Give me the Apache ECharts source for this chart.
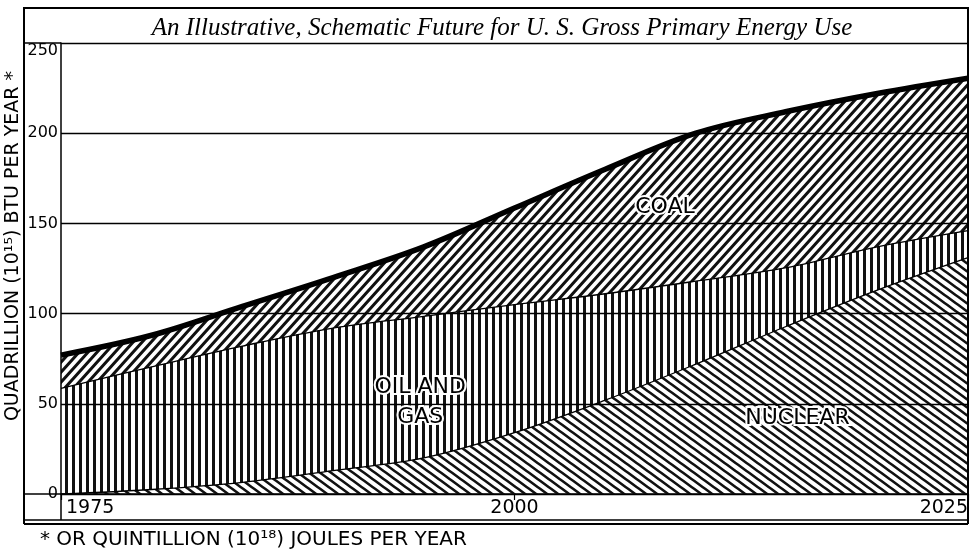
<!DOCTYPE html>
<html><head><meta charset="utf-8">
<script src="https://cdn.jsdelivr.net/npm/echarts@6/dist/echarts.min.js"></script>
<style>html,body{margin:0;padding:0;background:#fff}#c{width:971px;height:550px}</style>
</head><body><div id="c"></div>
<script>
// ---- data (quadrillion BTU per year) ----
const years   = ['1975', '1980', '1985', '1990', '1995', '2000', '2005', '2010', '2015', '2020', '2025'];
const nuclear = [0, 2.5, 6.5, 13, 20, 34, 52, 72, 93, 113, 131];
const oilGas  = [58.5, 68, 75.5, 79, 78.5, 71, 59, 46, 32.5, 24, 15];
const coal    = [18.5, 17.5, 22, 28, 38.5, 53.5, 69, 82, 86.5, 85, 84.5];
const xTickLabels = ['1975', '2000', '2025'];
const yTickLabels = [0, 50, 100, 150, 200, 250];
// area labels placed at (fractional category index, value)
const areaLabels = [
  {text: 'COAL', x: 6.66, y: 159},
  {text: 'OIL AND\nGAS', x: 3.96, y: 51},
  {text: 'NUCLEAR', x: 8.12, y: 42}
];

// ---- hatch tiles ----
function tile(w, h, dir, lw) {
  const c = document.createElement('canvas'); c.width = w; c.height = h;
  const g = c.getContext('2d');
  g.clearRect(0, 0, w, h);
  g.strokeStyle = '#111'; g.lineWidth = lw; g.beginPath();
  if (dir === '|') { g.moveTo(w / 2, -1); g.lineTo(w / 2, h + 1); }
  else {
    for (let k = -2; k <= 2; k++) {
      if (dir === '/') { g.moveTo(k * w - w, 2 * h); g.lineTo(k * w + 2 * w, -h); }
      else { g.moveTo(k * w - w, -h); g.lineTo(k * w + 2 * w, 2 * h); }
    }
  }
  g.stroke();
  return c;
}
const nucTile  = tile(11, 8, '\\', 2.6);
const oilTile  = tile(7, 4, '|', 3);
const coalTile = tile(9, 10, '/', 3);

const G = {left: 61, right: 3, top: 43, bottom: 56};
const chart = echarts.init(document.getElementById('c'));
const font = '"DejaVu Sans", sans-serif';

function mk(name, vals, tileC, lw) {
  return {
    type: 'line', name: name, stack: 'total', smooth: 0.35, symbol: 'none',
    data: vals,
    lineStyle: {color: '#000', width: lw},
    areaStyle: {color: {image: tileC, repeat: 'repeat'}, opacity: 1},
    emphasis: {disabled: true}, silent: true, z: 2
  };
}

chart.setOption({
  animation: false,
  backgroundColor: '#fff',
  title: {
    text: 'An Illustrative, Schematic Future for U. S. Gross Primary Energy Use',
    left: 497, top: 11, textAlign: 'center',
    textStyle: {fontFamily: '"Liberation Serif", serif', fontStyle: 'italic', fontWeight: 'normal', fontSize: 25, color: '#000'}
  },
  grid: G,
  xAxis: {
    type: 'category', data: years, boundaryGap: false,
    axisLine: {show: true, lineStyle: {color: '#000', width: 1.5}},
    axisTick: {show: true, length: 6, interval: 4, lineStyle: {color: '#000', width: 1.2}},
    splitLine: {show: false},
    axisLabel: {
      color: '#000', fontFamily: font, fontSize: 19, margin: 5, interval: 4,
      alignMinLabel: 'left', alignMaxLabel: 'right',
      formatter: v => (v === xTickLabels[0] ? '{p|' + v + '}' : (xTickLabels.indexOf(v) >= 0 ? v : '')),
      rich: {p: {fontFamily: font, fontSize: 19, color: '#000', padding: [0, 0, 0, 5]}}
    }
  },
  yAxis: {
    type: 'value', min: 0, max: 250, interval: 50, z: 5,
    axisLine: {show: true, lineStyle: {color: '#000', width: 1.5}},
    axisTick: {show: false},
    splitLine: {show: true, lineStyle: {color: '#000', width: 1.3}},
    axisLabel: {
      color: '#000', fontFamily: font, fontSize: 16, margin: 3,
      verticalAlignMaxLabel: 'top',
      formatter: v => (yTickLabels.indexOf(v) >= 0 ? String(v) : '')
    }
  },
  series: [
    mk('Nuclear', nuclear, nucTile, 1.3),
    mk('Oil and Gas', oilGas, oilTile, 1.3),
    mk('Coal', coal, coalTile, 5.5)
  ]
});

// frame / annotations
const L = 24, R = 968, T = 8, B1 = 520, B2 = 524;
const y0 = chart.convertToPixel({gridIndex: 0}, [0, 0])[1];
const x0 = G.left;
function toPx(fi, v) {
  const i0 = Math.floor(fi), i1 = Math.min(i0 + 1, years.length - 1), f = fi - i0;
  const a = chart.convertToPixel({gridIndex: 0}, [i0, v]);
  const b = chart.convertToPixel({gridIndex: 0}, [i1, v]);
  return [a[0] + (b[0] - a[0]) * f, a[1]];
}
const ln = (x1, y1, x2, y2, w) => ({type: 'line', silent: true, z: 10, shape: {x1, y1, x2, y2}, style: {stroke: '#000', lineWidth: w}});
const gr = [
  ln(L, T, R, T, 2.2),
  ln(L, T - 1, L, B2, 2),
  ln(R, T - 1, R, B2, 2),
  ln(L, G.top, x0, G.top, 1.5),
  ln(L, y0, x0, y0, 1.3),
  ln(x0, y0, x0, B1, 1.5),
  ln(L, B1, R, B1, 1.5),
  ln(L, B2, R, B2, 1.8)
];
areaLabels.forEach(a => {
  const p = toPx(a.x, a.y);
  gr.push({
    type: 'text', silent: true, z: 20, x: p[0], y: p[1],
    style: {text: a.text, font: '22px "DejaVu Sans", sans-serif', fill: '#000',
      stroke: '#fff', lineWidth: 4, strokeFirst: true,
      align: 'center', verticalAlign: 'middle', lineHeight: 30}
  });
});
gr.push({
  type: 'text', silent: true, z: 20, x: 13, y: 246, rotation: Math.PI / 2,
  style: {text: 'QUADRILLION (10¹⁵) BTU PER YEAR *', font: '19px "DejaVu Sans", sans-serif',
    fill: '#000', align: 'center', verticalAlign: 'middle'}
});
gr.push({
  type: 'text', silent: true, z: 20, x: 40, y: 540,
  style: {text: '* OR QUINTILLION (10¹⁸) JOULES PER YEAR', font: '20px "DejaVu Sans", sans-serif',
    fill: '#000', align: 'left', verticalAlign: 'middle'}
});
chart.setOption({graphic: gr});
</script></body></html>
